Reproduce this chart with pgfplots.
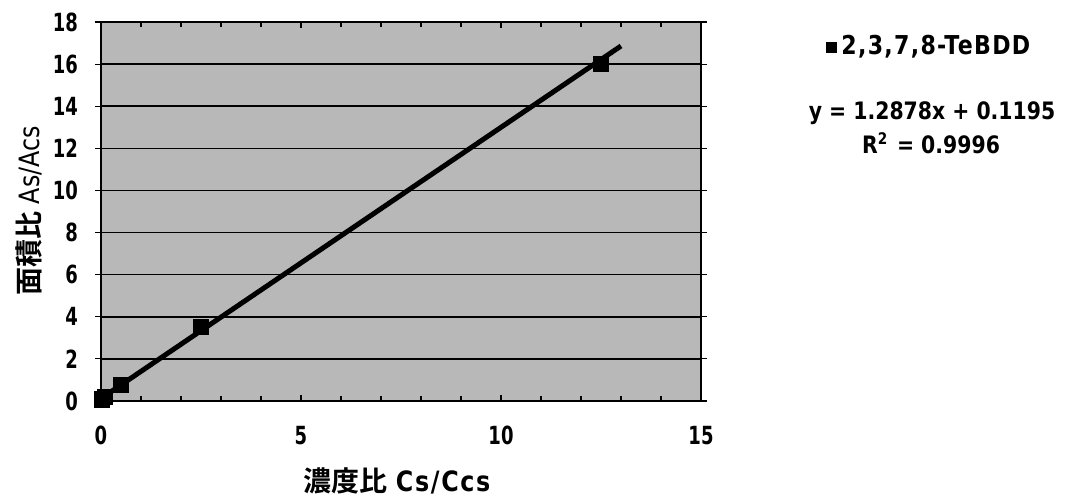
\documentclass[border=0pt]{standalone}
\usepackage{pgfplots}
\pgfplotsset{compat=1.18}
\usepackage{fontspec}
\setmainfont{DejaVu Sans}[FakeStretch=0.85]
\newfontfamily\tickfont{DejaVu Sans}[FakeStretch=0.72]
\newfontfamily\cjk{Noto Sans CJK JP}[BoldFont={Noto Sans CJK JP Bold}]
\definecolor{plotbg}{gray}{0.72}

\begin{document}
\begin{tikzpicture}
\useasboundingbox (-50.5pt,-50.5pt) rectangle (483pt,200.5pt);
\begin{axis}[
    scale only axis,
    width=300pt, height=189.5pt,
    xmin=0, xmax=15, ymin=0, ymax=18,
    xtick={0,5,10,15}, ytick={0,2,...,18},
    minor x tick num=4,
    axis background/.style={fill=plotbg},
    axis line style={black, line width=1pt},
    ymajorgrids,
    grid style={black, line width=0.8pt},
    x tick style={black, line width=0.6pt},
    y tick style={black, line width=0.6pt},
    xtick align=inside, ytick align=outside,
    major tick length=3pt, minor tick length=2.5pt,
    tick label style={font=\tickfont\bfseries\fontsize{12.5}{14}\selectfont},
    /pgf/number format/assume math mode=true,
    xticklabel style={yshift=-9pt},
    yticklabel style={xshift=-5pt},
    clip=false,
]
% linear trendline y = 1.2878x + 0.1195
\addplot[black, line width=2.5pt, no marks] coordinates {(0,0.1195) (13,16.8609)};
% measured points
\addplot[only marks, mark=square*, mark size=3.8pt, black] coordinates {
    (0.02,0.08) (0.1,0.18) (0.5,0.75) (2.5,3.5) (12.5,16.0)
};
\end{axis}
% axis labels
\node[font=\fontsize{14}{16}\selectfont\bfseries] at (148pt,-40pt)
    {{\cjk\bfseries 濃度比} \addfontfeature{LetterSpace=6}Cs/Ccs};
\node[rotate=90, font=\fontsize{14}{16}\selectfont] at (-36pt,95pt)
    {{\cjk\bfseries 面積比} As/Acs};
% legend and trendline label
\fill[black] (362.5pt,174pt) rectangle (368pt,179.5pt);
\node[anchor=west, inner sep=0pt, font=\fontsize{13}{15}\selectfont\bfseries] at (370pt,177pt)
    {\addfontfeature{LetterSpace=5}2,3,7,8-TeBDD};
\node[font=\fontsize{12}{14}\selectfont\bfseries] at (415.5pt,144pt) {y = 1.2878x + 0.1195};
\node[font=\fontsize{12}{14}\selectfont\bfseries] at (415pt,129pt) {R$^{\mathbf 2}$ = 0.9996};
\end{tikzpicture}
\end{document}
